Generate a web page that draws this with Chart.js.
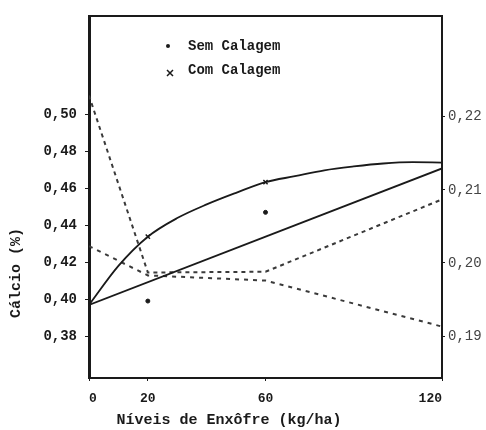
<!DOCTYPE html>
<html>
<head>
<meta charset="utf-8">
<title>Cálcio x Níveis de Enxôfre</title>
<script src="https://cdn.jsdelivr.net/npm/chart.js@4.4.1/dist/chart.umd.min.js"></script>
<style>
  html, body { margin: 0; padding: 0; background: #fff; }
  #wrap { width: 486px; height: 430px; position: relative; }
</style>
</head>
<body>
<div id="wrap"><canvas id="chart"></canvas></div>
<script>
// values
var xTicks = [0, 20, 60, 120];
var leftTicks = [0.38, 0.40, 0.42, 0.44, 0.46, 0.48, 0.50];
var rightTicks = [0.19, 0.20, 0.21, 0.22];

// solid curve (Calcio, left axis)
var curveX = [0, 10, 20, 30, 40, 50, 60, 70, 80, 90, 100, 110, 120];
var curveY = [0.3969, 0.4181, 0.4339, 0.4440, 0.4514, 0.4577, 0.4635, 0.4667, 0.4699, 0.4720, 0.4736, 0.4743, 0.4741];

// solid straight line (left axis)
var lineX = [0, 120];
var lineY = [0.3969, 0.4709];

// dashed lines (right axis), at xTicks
var dashA = [0.2229, 0.1987, 0.1988, 0.2087];
var dashB = [0.2023, 0.1983, 0.1976, 0.1913];

// observed points
var semX = [20, 60];
var semY = [0.3990, 0.4471];
var comX = [20, 60];
var comY = [0.4339, 0.4635];

var legendLabels = ["Sem Calagem", "Com Calagem"];
var xTitle = "Níveis de Enxôfre (kg/ha)";
var yTitle = "Cálcio (%)";

function pairs(xs, ys) {
    var out = [];
    for (var i = 0; i < xs.length; i++) {
        out.push({x: xs[i], y: ys[i]});
    }
    return out;
}

function comma(v) {
    return v.toFixed(2).replace(".", ",");
}

var mono = "'Liberation Mono', 'DejaVu Sans Mono', monospace";

// legend and axis titles placed where the scan has them
var textPlugin = {
    id: "scanText",
    afterDraw: function(chart) {
        var ctx = chart.ctx;
        ctx.save();
        ctx.fillStyle = "#1a1a1a";
        ctx.strokeStyle = "#1a1a1a";
        ctx.font = "bold 14px " + mono;
        ctx.textBaseline = "middle";
        ctx.textAlign = "left";

        // legend
        ctx.beginPath();
        ctx.arc(168, 46, 2, 0, Math.PI * 2);
        ctx.fill();
        ctx.fillText(legendLabels[0], 188, 46);

        ctx.lineWidth = 1.5;
        ctx.beginPath();
        ctx.moveTo(167, 70); ctx.lineTo(173, 76);
        ctx.moveTo(173, 70); ctx.lineTo(167, 76);
        ctx.stroke();
        ctx.fillText(legendLabels[1], 188, 70);

        // x title
        ctx.font = "bold 15px " + mono;
        ctx.textAlign = "center";
        ctx.fillText(xTitle, 229, 420);

        // y title
        ctx.translate(16, 273);
        ctx.rotate(-Math.PI / 2);
        ctx.fillText(yTitle, 0, 0);
        ctx.restore();
    }
};

var ctx = document.getElementById("chart");

var data = {
    datasets: [
        {
            label: "curva",
            data: pairs(curveX, curveY),
            yAxisID: "y",
            showLine: true,
            borderColor: "#1a1a1a",
            borderWidth: 1.8,
            pointRadius: 0,
            cubicInterpolationMode: "monotone"
        },
        {
            label: "reta",
            data: pairs(lineX, lineY),
            yAxisID: "y",
            showLine: true,
            borderColor: "#1a1a1a",
            borderWidth: 1.8,
            pointRadius: 0
        },
        {
            label: "tracejada 1",
            data: pairs(xTicks, dashA),
            yAxisID: "y2",
            showLine: true,
            borderColor: "#3a3a3a",
            borderWidth: 2,
            borderDash: [4, 4],
            pointRadius: 0
        },
        {
            label: "tracejada 2",
            data: pairs(xTicks, dashB),
            yAxisID: "y2",
            showLine: true,
            borderColor: "#3a3a3a",
            borderWidth: 2,
            borderDash: [4, 5],
            pointRadius: 0
        },
        {
            label: legendLabels[0],
            data: pairs(semX, semY),
            yAxisID: "y",
            showLine: false,
            pointStyle: "circle",
            pointRadius: 2,
            backgroundColor: "#1a1a1a",
            borderColor: "#1a1a1a"
        },
        {
            label: legendLabels[1],
            data: pairs(comX, comY),
            yAxisID: "y",
            showLine: false,
            pointStyle: "crossRot",
            pointRadius: 3,
            borderWidth: 1.5,
            borderColor: "#1a1a1a"
        }
    ]
};

var chart = new Chart(ctx, {
    type: "scatter",
    data: data,
    plugins: [textPlugin],
    options: {
        responsive: true,
        maintainAspectRatio: false,
        animation: false,
        layout: { padding: 0 },
        plugins: {
            legend: { display: false },
            tooltip: { enabled: false }
        },
        scales: {
            x: {
                type: "linear",
                position: "bottom",
                min: 0,
                max: 120,
                afterBuildTicks: function(axis) {
                    axis.ticks = xTicks.map(function(v) { return {value: v}; });
                },
                afterFit: function(scale) { scale.height = 52; },
                grid: { display: true, drawOnChartArea: false, drawTicks: true, tickLength: 3, color: "#1a1a1a" },
                border: { display: true, color: "#1a1a1a", width: 2 },
                ticks: {
                    align: "inner",
                    padding: 10,
                    color: "#1a1a1a",
                    font: { family: mono, size: 13, weight: "bold" },
                    callback: function(v) { return v; }
                }
            },
            xTop: {
                type: "linear",
                position: "top",
                min: 0,
                max: 120,
                afterFit: function(scale) { scale.height = 7; },
                grid: { display: false },
                border: { display: true, color: "#1a1a1a", width: 2 },
                ticks: { display: false }
            },
            y: {
                type: "linear",
                position: "left",
                min: 0.35727,
                max: 0.55336,
                afterBuildTicks: function(axis) {
                    axis.ticks = leftTicks.map(function(v) { return {value: v}; });
                },
                afterFit: function(scale) { scale.width = 89; },
                grid: { display: true, drawOnChartArea: false, drawTicks: true, tickLength: 4, color: "#1a1a1a" },
                border: { display: true, color: "#1a1a1a", width: 3 },
                ticks: {
                    padding: 8,
                    color: "#1a1a1a",
                    font: { family: mono, size: 14, weight: "bold" },
                    callback: function(v) { return comma(v); }
                }
            },
            y2: {
                type: "linear",
                position: "right",
                min: 0.184267,
                max: 0.233733,
                afterBuildTicks: function(axis) {
                    axis.ticks = rightTicks.map(function(v) { return {value: v}; });
                },
                afterFit: function(scale) { scale.width = 44; },
                grid: { display: true, drawOnChartArea: false, drawTicks: true, tickLength: 3, color: "#1a1a1a" },
                border: { display: true, color: "#1a1a1a", width: 2 },
                ticks: {
                    padding: 3,
                    color: "#444",
                    font: { family: mono, size: 14 },
                    callback: function(v) { return comma(v); }
                }
            }
        }
    }
});
</script>
</body>
</html>
